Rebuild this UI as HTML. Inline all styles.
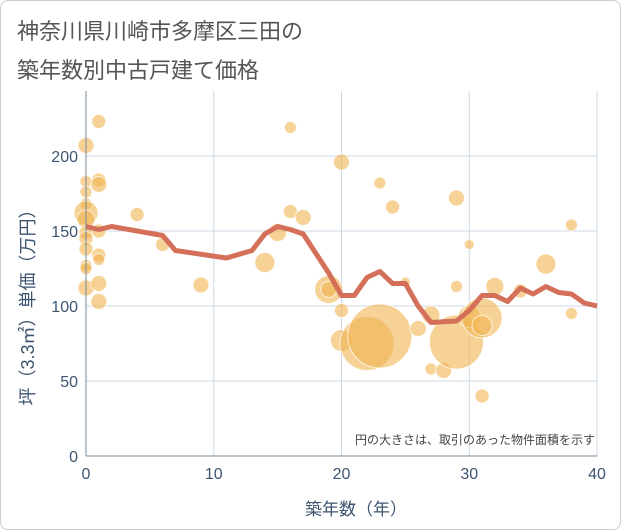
<!DOCTYPE html>
<html><head><meta charset="utf-8"><style>
body{margin:0;background:#fff;font-family:"Liberation Sans","Noto Sans CJK JP",sans-serif;}
#wrap{position:relative;width:619px;height:528px;border:1px solid #ccc;border-radius:8px;overflow:hidden;}
</style></head><body>
<div id="wrap">
<svg id="chart" width="619" height="528" xmlns="http://www.w3.org/2000/svg">
<text x="16" y="38" font-size="22" fill="#555">神奈川県川崎市多摩区三田の</text>
<text x="16" y="77" font-size="22" fill="#555">築年数別中古戸建て価格</text>
<g id="grid"></g><g id="bubbles"></g><g id="line"></g><g id="axes"></g>
<text x="594" y="443" font-size="12" fill="#444" text-anchor="end">円の大きさは、取引のあった物件面積を示す</text>
<text x="355" y="514" font-size="17" fill="#3d5570" text-anchor="middle">築年数（年）</text>
<text transform="translate(33,302) rotate(-90)" font-size="18" fill="#3d5570" text-anchor="middle">坪（3.3㎡）単価（万円）</text>
</svg></div>
<script>
const xTicks=[0,10,20,30,40];
const yTicks=[0,50,100,150,200];
const lineX=[0,1,2,6,7,11,13,14,15,16,17,18,19,20,21,22,23,24,25,26,27,29,30,31,32,33,34,35,36,37,38,39,40];
const lineY=[153,151,153,147,137,132,137,148,153,151,148,135,122,107,107,119,123,115,115,100,89,90,97,107,107,103,112,108,113,109,108,102,100];
const bubX=[0,1,0,1,1,0,0,0,0,0,1,0,0,1,1,0,0,0,1,1,4,6,9,14,15,16,16,17,19,19,20,20,20,22,23,23,24,25,26,27,27,28,29,29,29,30,30,31,31,31,32,34,36,38,38];
const bubY=[207,223,183,184,181,176,168,162,158,149,150,145,138,134,131,127,125,112,115,103,161,141,114,129,149,219,163,159,111,111,196,97,77,75,80,182,166,116,85,58,94,57,172,76,113,141,93,92,87,40,113,110,128,154,95];
const bubR=[8,7,6,7,8,6,6,12,9,7,7,7,7,7,6,6,6,8,8,8,7,7,8,10,9,6,7,8,14,8,8,7,11,27,32,6,7,5,8,6,9,8,8,27,6,5,11,20,10,7,9,7,10,6,6];
const X0=85,X1=596,Y0=455,Y1=155;
const sx=v=>X0+(X1-X0)*v/40, sy=v=>Y0-(Y0-Y1)*v/200;
const NS='http://www.w3.org/2000/svg';
function mk(t,a,p){const e=document.createElementNS(NS,t);for(const k in a)e.setAttribute(k,a[k]);p.appendChild(e);return e;}
const grid=document.getElementById('grid'),axes=document.getElementById('axes');
xTicks.forEach(t=>{const l=mk('line',{x1:sx(t),x2:sx(t),y1:90,y2:Y0,stroke:'#cdd8e6','stroke-width':1},grid);


const tx=mk('text',{x:sx(t),y:478,'font-size':16,fill:'#3d5570','text-anchor':'middle'},axes);tx.textContent=t;

});
yTicks.forEach(t=>{const l=mk('line',{x1:X0,x2:X1,y1:sy(t),y2:sy(t),stroke:'#cdd8e6','stroke-width':1},grid);


const tx=mk('text',{x:77,y:sy(t)+6,'font-size':16,fill:'#3d5570','text-anchor':'end'},axes);tx.textContent=t;

});
const ax=mk('line',{x1:X0,x2:X0,y1:90,y2:Y0,stroke:'#7a8a9a','stroke-width':1},axes);


const bx=mk('line',{x1:X0,x2:X1,y1:Y0,y2:Y0,stroke:'#7a8a9a','stroke-width':1},axes);


const bg=document.getElementById('bubbles');
bubX.forEach((x,i)=>{const c=mk('circle',{cx:sx(x),cy:sy(bubY[i]),r:bubR[i],fill:'rgba(240,180,80,0.6)',stroke:'rgba(255,255,255,0.7)','stroke-width':1},bg);

});
const p=mk('polyline',{points:lineX.map((x,i)=>sx(x)+','+sy(lineY[i])).join(' '),fill:'none',stroke:'#d4705a','stroke-width':5,'stroke-linejoin':'round'},document.getElementById('line'));


</script>
</body></html>
